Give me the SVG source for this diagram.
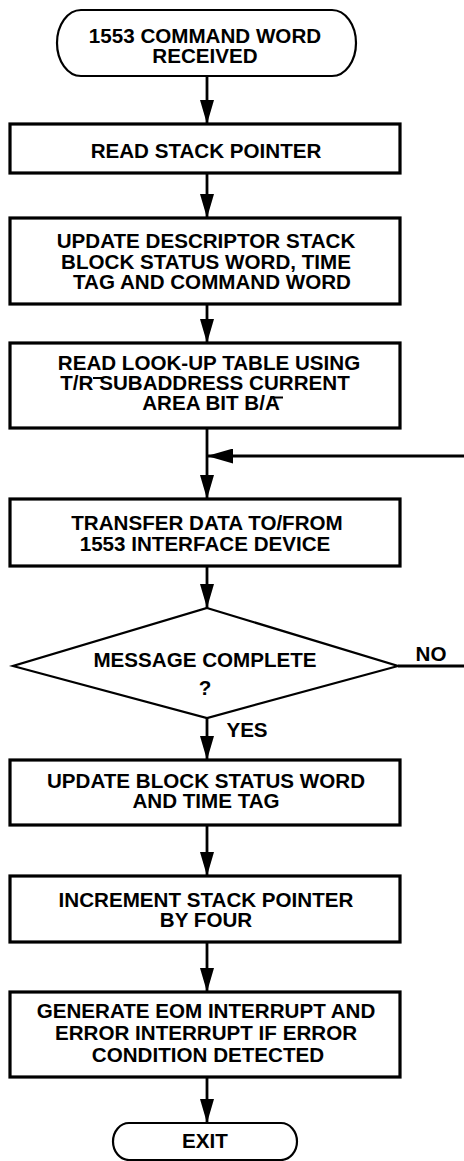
<svg xmlns="http://www.w3.org/2000/svg" width="464" height="1161" viewBox="0 0 464 1161">
<style>
.t{font-family:"Liberation Sans",Arial,Helvetica,sans-serif;font-weight:bold;font-size:20.6px;fill:#000;text-anchor:middle}
.box{fill:#fff;stroke:#000;stroke-width:3.2}
.term{fill:#fff;stroke:#000;stroke-width:2.2}
.c{fill:none;stroke:#000;stroke-width:2.8}
.bar{stroke:#000;stroke-width:2}
</style>
<defs>
<marker id="ah" viewBox="0 0 24 14" refX="24" refY="7" markerWidth="24" markerHeight="14" markerUnits="userSpaceOnUse" orient="auto">
<path d="M0,0 L24,7 L0,14 Z" fill="#000"/>
</marker>
<marker id="ahl" viewBox="0 0 26 15" refX="26" refY="7.5" markerWidth="26" markerHeight="15" markerUnits="userSpaceOnUse" orient="auto">
<path d="M0,0 L26,7.5 L0,15 Z" fill="#000"/>
</marker>
</defs>
<g id="connectors">
<line class="c" x1="207" y1="76" x2="207" y2="124" marker-end="url(#ah)"/>
<line class="c" x1="207" y1="173" x2="207" y2="218" marker-end="url(#ah)"/>
<line class="c" x1="207" y1="304" x2="207" y2="343" marker-end="url(#ah)"/>
<line class="c" x1="207" y1="428" x2="207" y2="499" marker-end="url(#ah)"/>
<line class="c" x1="464" y1="456" x2="207" y2="456" marker-end="url(#ahl)"/>
<line class="c" x1="207" y1="566" x2="207" y2="608" marker-end="url(#ah)"/>
<line class="c" x1="398" y1="666" x2="464" y2="666"/>
<line class="c" x1="207" y1="718" x2="207" y2="760" marker-end="url(#ah)"/>
<line class="c" x1="207" y1="825" x2="207" y2="876" marker-end="url(#ah)"/>
<line class="c" x1="207" y1="942" x2="207" y2="992" marker-end="url(#ah)"/>
<line class="c" x1="207" y1="1077" x2="207" y2="1123" marker-end="url(#ah)"/>
<text class="t" x="431" y="661">NO</text>
<text class="t" x="247" y="737">YES</text>
</g>
<g id="start">
<rect class="term" x="57" y="10" width="299" height="66" rx="24" ry="33"/>
<text class="t" x="205" y="43">1553 COMMAND WORD</text>
<text class="t" x="205" y="63">RECEIVED</text>
</g>
<g id="readStackPointer">
<rect class="box" x="10" y="124" width="390" height="49"/>
<text class="t" x="206" y="158">READ STACK POINTER</text>
</g>
<g id="updateDescriptor">
<rect class="box" x="10" y="218" width="390" height="86"/>
<text class="t" x="206" y="248">UPDATE DESCRIPTOR STACK</text>
<text class="t" x="206" y="268.5">BLOCK STATUS WORD, TIME</text>
<text class="t" x="212" y="289">TAG AND COMMAND WORD</text>
</g>
<g id="readLookup">
<rect class="box" x="10" y="343" width="390" height="85"/>
<text class="t" x="209" y="370">READ LOOK-UP TABLE USING</text>
<text class="t" x="205" y="390">T/R SUBADDRESS CURRENT</text>
<text class="t" x="211" y="410">AREA BIT B/A</text>
<line class="bar" x1="93" y1="378" x2="104" y2="378"/>
<line class="bar" x1="270" y1="397.5" x2="283" y2="397.5"/>
</g>
<g id="transfer">
<rect class="box" x="10" y="499" width="390" height="67"/>
<text class="t" x="207" y="530">TRANSFER DATA TO/FROM</text>
<text class="t" x="205" y="551">1553 INTERFACE DEVICE</text>
</g>
<g id="decision">
<polygon class="term" points="207,608 398,666 207,718 13,666"/>
<text class="t" x="205" y="667">MESSAGE COMPLETE</text>
<text class="t" x="205" y="695">?</text>
</g>
<g id="updateBlock">
<rect class="box" x="10" y="760" width="390" height="65"/>
<text class="t" x="206" y="788">UPDATE BLOCK STATUS WORD</text>
<text class="t" x="206" y="808">AND TIME TAG</text>
</g>
<g id="increment">
<rect class="box" x="10" y="876" width="390" height="66"/>
<text class="t" x="206" y="907">INCREMENT STACK POINTER</text>
<text class="t" x="206" y="927">BY FOUR</text>
</g>
<g id="generate">
<rect class="box" x="10" y="992" width="390" height="85"/>
<text class="t" x="206" y="1018">GENERATE EOM INTERRUPT AND</text>
<text class="t" x="206" y="1040">ERROR INTERRUPT IF ERROR</text>
<text class="t" x="208" y="1062">CONDITION DETECTED</text>
</g>
<g id="exit">
<rect class="term" x="113" y="1123" width="184" height="37" rx="16" ry="18.5"/>
<text class="t" x="205" y="1148">EXIT</text>
</g>
</svg>
